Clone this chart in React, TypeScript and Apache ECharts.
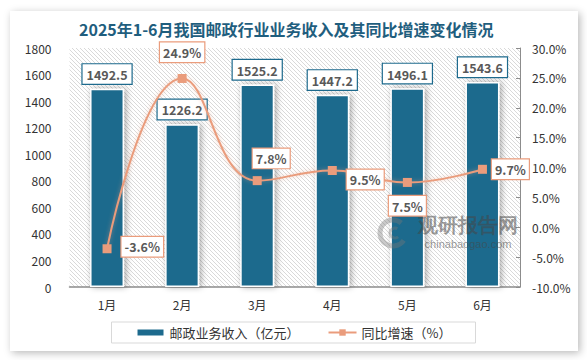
import React, { useEffect, useRef } from "react";
import * as echarts from "echarts";

const months = ["1月", "2月", "3月", "4月", "5月", "6月"];
const revenue = [1492.5, 1226.2, 1525.2, 1447.2, 1496.1, 1543.6];
const growth = [-3.6, 24.9, 7.8, 9.5, 7.5, 9.7];
const titleText = "2025年1-6月我国邮政行业业务收入及其同比增速变化情况";
const barName = "邮政业务收入（亿元）";
const lineName = "同比增速（%）";

const BAR = "#1d6a8d";
const LINE = "#ea9c7c";
const FONT = "'Noto Sans CJK SC', 'Noto Sans', sans-serif";

function makeHatch() {
  const c = document.createElement("canvas");
  c.width = 4;
  c.height = 4;
  const ctx = c.getContext("2d")!;
  ctx.fillStyle = "#ffffff";
  ctx.fillRect(0, 0, 4, 4);
  ctx.strokeStyle = "#d9d9d9";
  ctx.lineWidth = 1;
  ctx.beginPath();
  ctx.moveTo(-1, -1);
  ctx.lineTo(5, 5);
  ctx.moveTo(-3, 1);
  ctx.lineTo(1, 5);
  ctx.moveTo(1, -3);
  ctx.lineTo(5, 1);
  ctx.stroke();
  return c;
}

const lineLabelPos: any[] = [
  { position: "right", offset: [2, -2] },
  { position: "top", offset: [0, -4] },
  { position: "top", offset: [14, 0] },
  { position: "right", offset: [2, 9] },
  { position: "bottom", offset: [0, 1] },
  { position: "right", offset: [0, 0], distance: 5 },
];

export default function App() {
  const ref = useRef<HTMLDivElement>(null);
  useEffect(() => {
    const chart = echarts.init(ref.current!, null, { renderer: "svg" });
    const hatch = makeHatch();
    chart.setOption({
      animation: false,
      textStyle: { fontFamily: FONT },
      title: {
        text: titleText,
        left: 74,
        top: 16,
        textStyle: { fontSize: 16, fontWeight: "bold", color: "#1f5e7e", fontFamily: FONT },
      },
      grid: {
        left: 69.5,
        right: 67,
        top: 48,
        bottom: 73,
        show: true,
        borderWidth: 0,
        backgroundColor: { image: hatch, repeat: "repeat" },
      },
      legend: {
        bottom: 17,
        left: "center",
        padding: [4, 24, 4, 24],
        borderColor: "#d9d9d9",
        borderWidth: 1,
        itemGap: 28,
        itemWidth: 28,
        itemHeight: 8,
        textStyle: { fontSize: 13, color: "#333", fontFamily: FONT },
        data: [
          { name: barName, icon: "rect", itemStyle: { color: BAR } },
          { name: lineName },
        ],
      },
      xAxis: {
        type: "category",
        data: months,
        axisLine: { lineStyle: { color: "#8c8c8c", width: 1.5 } },
        axisTick: { show: false },
        axisLabel: { color: "#333", fontSize: 12, margin: 11 },
      },
      yAxis: [
        {
          type: "value",
          min: 0,
          max: 1800,
          interval: 200,
          splitLine: { show: false },
          axisLine: { show: false },
          axisTick: { show: false },
          axisLabel: { color: "#333", fontSize: 12, margin: 18, formatter: (v: number) => String(v) },
        },
        {
          type: "value",
          min: -10,
          max: 30,
          interval: 5,
          splitLine: { show: false },
          axisLine: { show: true, lineStyle: { color: "#8c8c8c" } },
          axisTick: { show: true, inside: true, length: 4, lineStyle: { color: "#8c8c8c" } },
          axisLabel: {
            color: "#333",
            fontSize: 12,
            margin: 12,
            formatter: (v: number) => v.toFixed(1) + "%",
          },
        },
      ],
      series: [
        {
          name: barName,
          type: "bar",
          data: revenue,
          barWidth: 34,
          itemStyle: {
            color: BAR,
            borderColor: "#ffffff",
            borderWidth: 1.5,
            shadowBlur: 6,
            shadowColor: "rgba(0,0,0,0.35)",
            shadowOffsetX: 2,
            shadowOffsetY: 0,
          },
          label: {
            show: true,
            position: "top",
            distance: 5,
            formatter: (p: any) => p.value.toFixed(1),
            color: "#595959",
            fontWeight: "bold",
            fontSize: 12.5,
            backgroundColor: "#ffffff",
            borderColor: BAR,
            borderWidth: 1.2,
            padding: [4, 4, 3, 4],
          },
        },
        {
          name: lineName,
          type: "line",
          yAxisIndex: 1,
          smooth: 0.45,
          data: growth.map((v, i) => ({
            value: v,
            label: lineLabelPos[i],
          })),
          symbol: "rect",
          symbolSize: 9,
          lineStyle: {
            color: LINE,
            width: 2,
            shadowBlur: 4,
            shadowColor: "rgba(234,156,124,0.5)",
          },
          itemStyle: { color: LINE },
          label: {
            show: true,
            distance: 8,
            formatter: (p: any) => p.value.toFixed(1) + "%",
            color: "#595959",
            fontWeight: "bold",
            fontSize: 12.5,
            backgroundColor: "#ffffff",
            borderColor: LINE,
            borderWidth: 1.2,
            padding: [4, 3, 3, 3],
          },
          z: 5,
        },
      ],
      graphic: [
        {
          type: "text",
          x: 468,
          y: 213,
          z: 100,
          style: {
            text: "{a|观研报告网}\n{b|chinabaogao.com}",
            align: "center",
            verticalAlign: "top",
            fontFamily: FONT,
            rich: {
              a: { fontSize: 20, lineHeight: 24, fontWeight: "bold", fill: "rgba(70,70,70,0.55)", align: "center" },
              b: { fontSize: 11, lineHeight: 13, fill: "rgba(70,70,70,0.55)", align: "center" },
            },
          },
        },
        {
          type: "arc",
          z: 100,
          shape: { cx: 393, cy: 233, r: 13, startAngle: 0.6, endAngle: 5.4 },
          style: { stroke: "rgba(120,120,120,0.4)", lineWidth: 5, fill: "none" },
        },
        {
          type: "arc",
          z: 100,
          shape: { cx: 395, cy: 233, r: 5, startAngle: 0.9, endAngle: 5.2 },
          style: { stroke: "rgba(120,120,120,0.4)", lineWidth: 3, fill: "none" },
        },
      ],
    });
    return () => chart.dispose();
  }, []);
  return (
    <div style={{ position: "fixed", left: 0, top: 0, width: 587, height: 360, background: "#ffffff", overflow: "hidden" }}>
      <div
        style={{
          position: "absolute",
          left: 10,
          top: 11,
          width: 568,
          height: 340,
          background: "#ffffff",
          boxShadow: "2px 2px 8px rgba(0,0,0,0.28)",
        }}
      />
      <div ref={ref} style={{ position: "absolute", left: 0, top: 0, width: 587, height: 360 }} />
    </div>
  );
}
